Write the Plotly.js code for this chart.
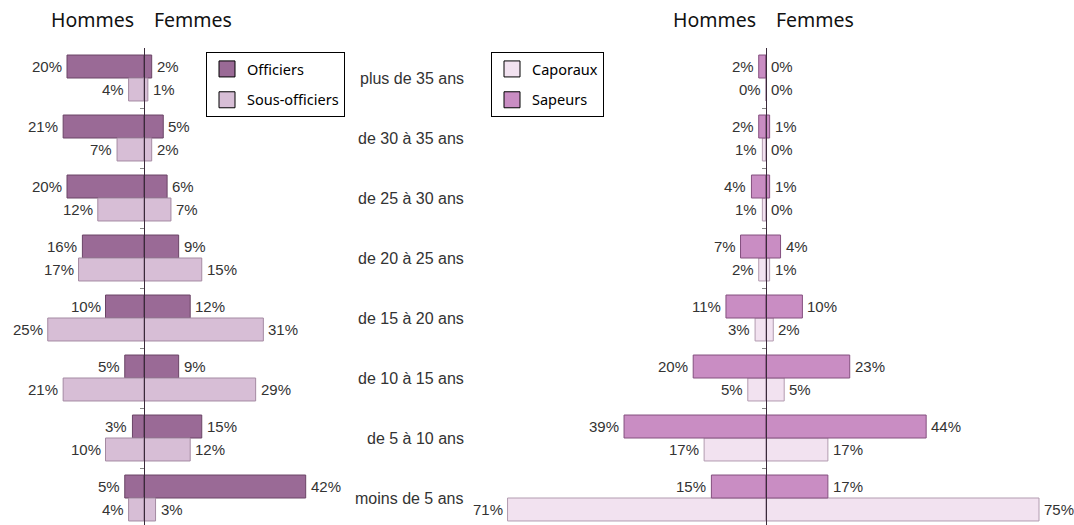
<!DOCTYPE html>
<html>
<head>
<meta charset="utf-8">
<script src="https://cdn.plot.ly/plotly-3.0.1.min.js"></script>
<style>html,body{margin:0;padding:0;background:#fff;}#chart{width:1074px;height:525px;}</style>
</head>
<body>
<div id="chart"></div>
<script>
const categories = ["plus de 35 ans","de 30 à 35 ans","de 25 à 30 ans","de 20 à 25 ans","de 15 à 20 ans","de 10 à 15 ans","de 5 à 10 ans","moins de 5 ans"];
const officiersHommes = [20,21,20,16,10,5,3,5];
const officiersFemmes = [2,5,6,9,12,9,15,42];
const sousOfficiersHommes = [4,7,12,17,25,21,10,4];
const sousOfficiersFemmes = [1,2,7,15,31,29,12,3];
const sapeursHommes = [2,2,4,7,11,20,39,15];
const sapeursFemmes = [0,1,1,4,10,23,44,17];
const caporauxHommes = [0,1,1,2,3,5,17,71];
const caporauxFemmes = [0,0,0,1,2,5,17,75];
const headers = ["Hommes","Femmes"];

const W = 1074, H = 525;
const idx = categories.map((_, i) => i);
const BW = 0.383;
const labelFont = {family: "Liberation Sans, Arial, sans-serif", size: 15, color: "#333"};
const catFont = {family: "Liberation Sans, Arial, sans-serif", size: 16, color: "#333"};
const humanFont = "Noto Sans, sans-serif";

const series = [
  {name: "Officiers", men: officiersHommes, women: officiersFemmes, color: "#9a6a96", line: "#6a4466", top: true, xa: "x", ya: "y", legend: "legend"},
  {name: "Sous-officiers", men: sousOfficiersHommes, women: sousOfficiersFemmes, color: "#d7bed6", line: "#a48aa2", top: false, xa: "x", ya: "y", legend: "legend"},
  {name: "Caporaux", men: caporauxHommes, women: caporauxFemmes, color: "#f2e2f0", line: "#b29cb0", top: false, xa: "x2", ya: "y2", legend: "legend2"},
  {name: "Sapeurs", men: sapeursHommes, women: sapeursFemmes, color: "#c98dc3", line: "#84507f", top: true, xa: "x2", ya: "y2", legend: "legend2"}
];

const traces = [];
const annotations = [];
series.forEach(s => {
  const off = s.top ? -BW : 0;
  traces.push({
    type: "bar", orientation: "h", name: s.name, showlegend: false,
    y: idx.concat(idx), x: s.men.map(v => -v).concat(s.women),
    width: BW, offset: off,
    marker: {color: s.color, line: {color: s.line, width: 1}},
    xaxis: s.xa, yaxis: s.ya, hoverinfo: "skip"
  });
  traces.push({
    type: "scatter", mode: "markers", name: s.name, x: [null], y: [null],
    marker: {symbol: "square", size: 16, color: s.color, line: {color: "#000", width: 1}},
    xaxis: s.xa, yaxis: s.ya, legend: s.legend, legendgroup: s.name, showlegend: true
  });
  const yc = s.top ? -BW / 2 : BW / 2;
  idx.forEach(i => {
    annotations.push({xref: s.xa, yref: s.ya, x: -s.men[i], y: i + yc, text: s.men[i] + "%",
      xanchor: "right", yanchor: "middle", xshift: -3, showarrow: false, font: labelFont});
    annotations.push({xref: s.xa, yref: s.ya, x: s.women[i], y: i + yc, text: s.women[i] + "%",
      xanchor: "left", yanchor: "middle", xshift: 3, showarrow: false, font: labelFont});
  });
});

idx.forEach(i => {
  annotations.push({xref: "paper", yref: "y", x: 466 / W, y: i, text: categories[i],
    xanchor: "right", yanchor: "middle", showarrow: false, font: catFont});
});

["x", "x2"].forEach(xa => {
  annotations.push({xref: xa, yref: "paper", x: 0, y: 1 - 20 / H, text: headers[0], xanchor: "right", yanchor: "middle",
    xshift: -8, showarrow: false, font: {family: humanFont, size: 19.5, color: "#111"}});
  annotations.push({xref: xa, yref: "paper", x: 0, y: 1 - 20 / H, text: headers[1], xanchor: "left", yanchor: "middle",
    xshift: 8, showarrow: false, font: {family: humanFont, size: 19.5, color: "#111"}});
});

const yDomain = [0, 1 - 48 / H];
const yRange = [7.45, -0.5];
const tickvals = idx.slice(1).map(i => i - 0.5);
const yCommon = {domain: yDomain, range: yRange, showgrid: false, zeroline: false, showline: true,
  linecolor: "#3a2a3a", linewidth: 1.3, ticks: "outside", ticklen: 4, tickcolor: "#888",
  tickvals: tickvals, showticklabels: false, anchor: "free", fixedrange: true};
const xCommon = {showgrid: false, zeroline: false, showline: false, showticklabels: false, ticks: "", fixedrange: true};

const legendCommon = {y: 1 - 52 / H, xanchor: "left", yanchor: "top", bgcolor: "#fff", bordercolor: "#000", borderwidth: 1,
  font: {family: humanFont, size: 14.5, color: "#000"}, traceorder: "grouped", tracegroupgap: 9};

const layout = {
  width: W, height: H, autosize: false,
  margin: {l: 0, r: 0, t: 0, b: 0},
  paper_bgcolor: "#fff", plot_bgcolor: "rgba(0,0,0,0)",
  barmode: "overlay",
  xaxis: Object.assign({}, xCommon, {domain: [0, 355 / W], range: [-144 / 3.85, (355 - 144) / 3.85], anchor: "y"}),
  xaxis2: Object.assign({}, xCommon, {domain: [470 / W, 1], range: [-(766 - 470) / 3.64, (W - 766) / 3.64], anchor: "y2"}),
  yaxis: Object.assign({}, yCommon, {position: 144 / W}),
  yaxis2: Object.assign({}, yCommon, {position: 766 / W}),
  legend: Object.assign({}, legendCommon, {x: 206 / W}),
  legend2: Object.assign({}, legendCommon, {x: 491 / W}),
  annotations: annotations,
  showlegend: true
};

Plotly.newPlot("chart", traces, layout, {displayModeBar: false, staticPlot: true});
</script>
</body>
</html>
